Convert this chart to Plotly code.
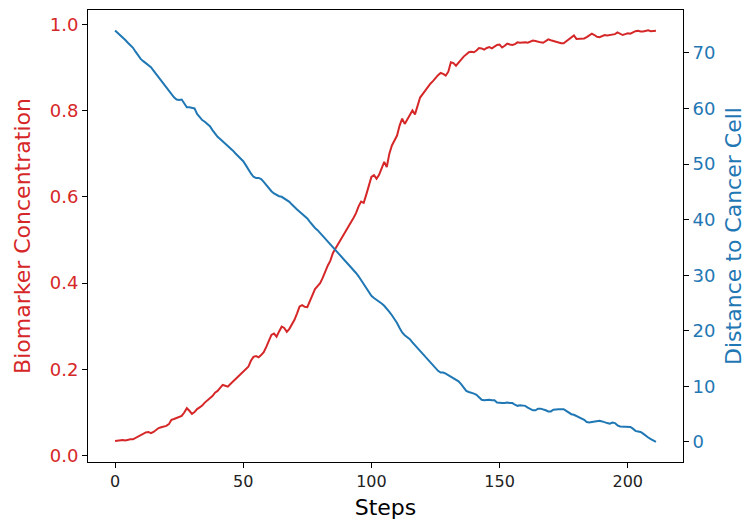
import plotly.graph_objects as go

steps = list(range(0, 212))

biomarker = [
    0.034, 0.035, 0.035, 0.036, 0.035, 0.037, 0.038, 0.038, 0.041, 0.044,
    0.047, 0.050, 0.054, 0.055, 0.052, 0.055, 0.060, 0.064, 0.066, 0.067,
    0.069, 0.073, 0.083, 0.085, 0.087, 0.089, 0.092, 0.100, 0.110, 0.104,
    0.097, 0.101, 0.108, 0.112, 0.116, 0.123, 0.128, 0.133, 0.138, 0.146,
    0.150, 0.157, 0.164, 0.162, 0.160, 0.166, 0.172, 0.178, 0.184, 0.190,
    0.196, 0.200, 0.206, 0.220, 0.229, 0.231, 0.228, 0.233, 0.240, 0.252,
    0.265, 0.280, 0.283, 0.276, 0.288, 0.299, 0.296, 0.287, 0.294, 0.303,
    0.315, 0.330, 0.346, 0.349, 0.345, 0.344, 0.358, 0.375, 0.386, 0.393,
    0.400, 0.412, 0.428, 0.441, 0.452, 0.470, 0.480, 0.490, 0.499, 0.508,
    0.518, 0.530, 0.541, 0.551, 0.562, 0.578, 0.589, 0.586, 0.605, 0.628,
    0.646, 0.650, 0.642, 0.651, 0.668, 0.681, 0.669, 0.700, 0.719, 0.730,
    0.742, 0.765, 0.781, 0.769, 0.780, 0.792, 0.800, 0.791, 0.812, 0.830,
    0.838, 0.847, 0.855, 0.862, 0.868, 0.876, 0.882, 0.887, 0.885, 0.881,
    0.890, 0.912, 0.910, 0.904, 0.910, 0.918, 0.925, 0.930, 0.935, 0.936,
    0.935, 0.939, 0.945, 0.944, 0.941, 0.945, 0.947, 0.944, 0.949, 0.952,
    0.953, 0.946, 0.950, 0.955, 0.953, 0.952, 0.954, 0.958, 0.957, 0.958,
    0.958, 0.957, 0.960, 0.962, 0.961, 0.959, 0.958, 0.957, 0.962, 0.965,
    0.963, 0.961, 0.959, 0.957, 0.956, 0.956, 0.960, 0.965, 0.970, 0.974,
    0.966, 0.966, 0.967, 0.967, 0.970, 0.975, 0.978, 0.975, 0.971, 0.970,
    0.973, 0.975, 0.974, 0.975, 0.975, 0.977, 0.981, 0.977, 0.975, 0.977,
    0.979, 0.978, 0.981, 0.984, 0.985, 0.983, 0.983, 0.985, 0.986, 0.984,
    0.985, 0.985,
]

distance = [
    74.0, 73.6, 73.2, 72.7, 72.3, 71.8, 71.3, 70.9, 70.2, 69.5,
    68.9, 68.5, 68.1, 67.7, 67.4, 66.8, 66.2, 65.5, 64.9, 64.3,
    63.7, 63.2, 62.6, 62.0, 61.6, 61.5, 61.6, 60.9, 60.2, 60.2,
    60.1, 60.0, 59.0, 58.4, 57.9, 57.6, 57.2, 56.8, 56.1, 55.4,
    54.9, 54.5, 54.1, 53.6, 53.2, 52.8, 52.4, 51.9, 51.4, 50.9,
    50.5, 49.8, 49.0, 48.3, 47.7, 47.5, 47.5, 47.3, 46.8, 46.2,
    45.6, 45.1, 44.7, 44.4, 44.2, 44.1, 43.8, 43.5, 43.2, 42.7,
    42.2, 41.8, 41.4, 41.0, 40.7, 40.2, 39.6, 39.0, 38.5, 38.1,
    37.6, 37.1, 36.5, 36.0, 35.5, 35.0, 34.5, 34.0, 33.5, 33.0,
    32.5, 31.9, 31.4, 30.9, 30.4, 29.8, 29.1, 28.4, 27.7, 27.0,
    26.3, 25.9, 25.6, 25.2, 24.9, 24.5, 24.0, 23.4, 22.8, 22.2,
    21.4, 20.5, 19.7, 19.2, 18.8, 18.5, 17.9, 17.4, 16.9, 16.4,
    15.9, 15.4, 14.9, 14.3, 13.8, 13.3, 12.8, 12.5, 12.5, 12.3,
    12.0, 11.8, 11.5, 11.2, 10.9, 10.4, 9.8, 9.2, 9.0, 8.9,
    8.7, 8.5, 8.0, 7.6, 7.5, 7.6, 7.6, 7.5, 7.5, 7.1,
    7.0, 7.0, 7.0, 7.1, 7.0, 7.0, 6.7, 6.5, 6.6, 6.6,
    6.5, 6.2, 5.9, 5.7, 5.7, 6.0, 6.0, 5.9, 5.7, 5.5,
    5.5, 5.8, 5.9, 5.9, 5.9, 5.9, 5.6, 5.3, 5.0, 4.9,
    4.7, 4.5, 4.3, 4.0, 3.6, 3.5, 3.6, 3.7, 3.7, 3.8,
    3.7, 3.5, 3.4, 3.3, 3.5, 3.4, 3.0, 2.8, 2.8, 2.8,
    2.7, 2.7, 2.4, 2.0, 1.9, 1.8, 1.5, 1.1, 0.8, 0.5,
    0.2, 0.0,
]

x_ticks = [0, 50, 100, 150, 200]
left_ticks = [0.0, 0.2, 0.4, 0.6, 0.8, 1.0]
left_tick_text = ["0.0", "0.2", "0.4", "0.6", "0.8", "1.0"]
right_ticks = [0, 10, 20, 30, 40, 50, 60, 70]

RED = "#d62728"
BLUE = "#1f77b4"
FONT = "DejaVu Sans"

fig = go.Figure()
fig.add_trace(go.Scatter(x=steps, y=biomarker, mode="lines",
                         line=dict(color=RED, width=2), yaxis="y",
                         name="Biomarker Concentration", showlegend=False))
fig.add_trace(go.Scatter(x=steps, y=distance, mode="lines",
                         line=dict(color=BLUE, width=2), yaxis="y2",
                         name="Distance to Cancer Cell", showlegend=False))

common = dict(showgrid=False, zeroline=False, showline=True, linecolor="black",
              linewidth=1, ticks="outside", ticklen=5, tickwidth=1,
              tickcolor="black")

fig.update_layout(
    width=746, height=527,
    margin=dict(l=88, r=63, t=10, b=65, autoexpand=False),
    paper_bgcolor="white", plot_bgcolor="white",
    font=dict(family=FONT, color="black"),
    xaxis=dict(**common, range=[-10.55, 221.55], tickvals=x_ticks,
               mirror=True, tickfont=dict(size=16, color="#222"),
               title=dict(text="Steps", font=dict(size=22, color="black"),
                          standoff=9)),
    yaxis=dict(**common, range=[-0.0147, 1.033], tickvals=left_ticks,
               ticktext=left_tick_text,
               tickfont=dict(size=18, color=RED),
               title=dict(text="Biomarker Concentration",
                          font=dict(size=22, color=RED), standoff=13)),
    yaxis2=dict(**common, range=[-3.6, 77.7], tickvals=right_ticks,
                overlaying="y", side="right",
                tickfont=dict(size=18, color=BLUE),
                title=dict(text="Distance to Cancer Cell",
                           font=dict(size=22, color=BLUE), standoff=14)),
)

fig.write_html("out.html",
               config={"displayModeBar": False},
               post_script="document.body.style.margin='0';"
                           "document.body.style.overflow='hidden';")
